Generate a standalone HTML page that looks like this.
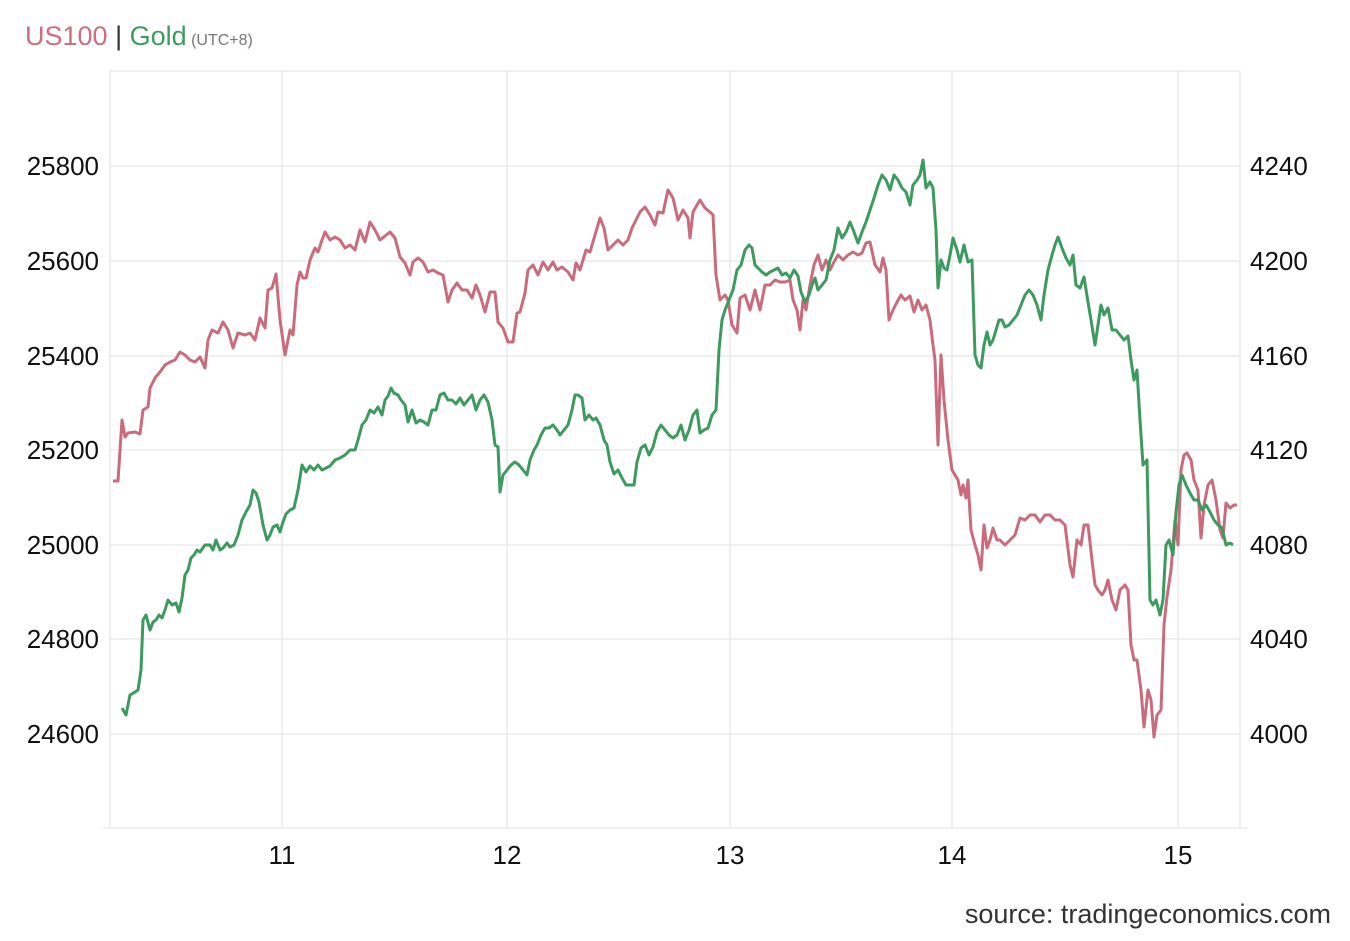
<!DOCTYPE html>
<html><head><meta charset="utf-8"><style>
body{margin:0;background:#fff;width:1350px;height:936px;overflow:hidden;font-family:"Liberation Sans",sans-serif}
</style></head><body>
<svg width="1350" height="936" xmlns="http://www.w3.org/2000/svg" font-family="Liberation Sans, sans-serif">
<text x="25" y="45" font-size="27"><tspan fill="#cc6e80">US100</tspan><tspan fill="#333"> | </tspan><tspan fill="#3f9a5e">Gold</tspan><tspan fill="#777" font-size="16"> (UTC+8)</tspan></text>
<g stroke="#e6e6e6" stroke-width="1.3" fill="none">
<line x1="110" y1="71" x2="1240" y2="71"/>
<line x1="110" y1="166" x2="1240" y2="166"/>
<line x1="110" y1="261" x2="1240" y2="261"/>
<line x1="110" y1="356" x2="1240" y2="356"/>
<line x1="110" y1="450" x2="1240" y2="450"/>
<line x1="110" y1="545" x2="1240" y2="545"/>
<line x1="110" y1="639" x2="1240" y2="639"/>
<line x1="110" y1="734" x2="1240" y2="734"/>
<line x1="282" y1="71" x2="282" y2="828"/>
<line x1="507" y1="71" x2="507" y2="828"/>
<line x1="730" y1="71" x2="730" y2="828"/>
<line x1="952" y1="71" x2="952" y2="828"/>
<line x1="1178" y1="71" x2="1178" y2="828"/>
<line x1="103" y1="828" x2="1247" y2="828"/>
<line x1="110" y1="71" x2="110" y2="828"/>
<line x1="1240" y1="71" x2="1240" y2="828"/>
</g>
<g font-size="26" fill="#111">
<text x="99" y="175" text-anchor="end">25800</text>
<text x="99" y="270" text-anchor="end">25600</text>
<text x="99" y="365" text-anchor="end">25400</text>
<text x="99" y="459" text-anchor="end">25200</text>
<text x="99" y="554" text-anchor="end">25000</text>
<text x="99" y="648" text-anchor="end">24800</text>
<text x="99" y="743" text-anchor="end">24600</text>
<text x="1250" y="175">4240</text>
<text x="1250" y="270">4200</text>
<text x="1250" y="365">4160</text>
<text x="1250" y="459">4120</text>
<text x="1250" y="554">4080</text>
<text x="1250" y="648">4040</text>
<text x="1250" y="743">4000</text>
<text x="282" y="864" text-anchor="middle">11</text>
<text x="507" y="864" text-anchor="middle">12</text>
<text x="730" y="864" text-anchor="middle">13</text>
<text x="952" y="864" text-anchor="middle">14</text>
<text x="1178" y="864" text-anchor="middle">15</text>
<text x="1331" y="923" text-anchor="end" fill="#333" font-size="27">source: tradingeconomics.com</text>
</g>
<polyline fill="none" stroke="#c96b7d" stroke-width="3" stroke-linejoin="round" points="113,481 118,481 122,420 125,437 128,433 135,432 140,434 143,410 148,407 150,388 155,378 160,372 165,365 170,362 175,360 180,352 185,355 190,360 195,362 200,357 205,368 208,340 212,330 218,333 223,322 228,330 233,348 238,333 245,335 250,333 255,340 260,318 265,328 268,290 272,288 276,274 280,320 285,355 290,330 293,335 297,285 300,272 303,278 306,278 310,260 315,248 318,252 322,240 325,232 330,240 335,237 340,240 345,248 350,245 355,250 360,230 365,242 370,222 375,230 380,240 385,236 390,232 395,238 400,257 405,263 410,275 413,262 418,258 423,262 428,272 433,270 438,273 443,275 448,302 452,290 457,283 462,290 467,290 472,298 476,285 480,295 485,312 490,292 495,292 498,322 503,328 508,342 513,342 517,313 520,312 525,293 528,270 533,265 538,275 543,262 548,270 553,262 557,270 562,267 568,272 573,280 576,263 580,270 583,260 586,250 590,252 595,235 600,218 604,228 608,250 613,245 618,240 623,245 628,240 632,228 636,220 640,212 645,207 650,215 655,225 658,212 663,213 668,190 673,198 678,220 683,210 688,218 690,238 693,212 697,205 700,200 705,208 710,212 713,215 716,275 720,300 725,295 728,300 732,325 737,333 740,298 745,295 750,310 755,290 760,310 765,285 770,285 775,280 780,282 785,282 790,280 793,300 797,310 800,330 803,300 806,310 810,285 814,265 818,255 822,270 826,260 830,270 834,262 838,255 843,260 848,255 853,252 858,255 862,253 866,243 870,242 875,265 880,272 883,258 886,270 889,320 893,310 897,302 901,295 905,300 910,296 914,312 918,300 922,310 926,305 930,320 933,345 935,360 938,445 941,355 944,400 948,440 952,470 955,475 958,480 961,495 963,485 966,498 968,480 971,530 975,545 978,555 981,570 984,525 987,548 990,540 993,528 997,540 1000,540 1005,545 1010,540 1015,535 1020,518 1025,520 1030,515 1035,515 1040,522 1045,515 1050,515 1055,520 1060,520 1065,525 1070,565 1073,577 1077,540 1081,545 1084,525 1088,525 1092,560 1095,585 1098,590 1102,595 1105,590 1108,580 1112,600 1116,610 1120,590 1125,585 1128,590 1131,645 1134,660 1137,660 1141,690 1144,727 1148,690 1151,700 1154,737 1157,715 1161,710 1164,625 1167,597 1171,570 1175,520 1178,545 1181,470 1184,455 1187,453 1191,460 1194,480 1198,490 1201,538 1204,505 1208,485 1212,480 1216,500 1220,530 1223,538 1226,503 1230,508 1234,505 1237,505"/>
<polyline fill="none" stroke="#3d9a5e" stroke-width="3" stroke-linejoin="round" points="122,708 126,715 130,695 135,692 138,690 141,670 143,620 146,615 150,630 153,622 156,620 159,615 162,618 165,610 168,600 172,605 176,603 179,612 182,598 185,575 188,570 191,558 194,555 197,550 200,552 205,545 210,545 213,550 216,540 220,550 223,548 227,543 230,547 234,545 238,535 242,520 246,512 250,505 253,490 256,493 259,502 263,525 267,540 270,535 273,527 277,525 280,532 283,522 286,514 290,510 294,508 298,490 302,465 306,472 310,466 314,470 318,465 322,470 326,468 330,466 335,460 340,458 345,455 350,450 355,450 358,440 362,425 366,420 370,410 374,413 378,407 382,415 385,400 388,396 391,388 394,393 398,395 401,400 405,405 408,422 412,410 416,423 420,420 424,422 428,425 432,410 436,410 440,395 444,393 448,400 452,400 456,404 460,398 464,405 468,400 472,395 476,410 480,400 484,395 488,402 492,420 495,445 498,447 500,492 503,475 507,470 511,465 515,462 519,465 523,470 527,475 530,460 534,450 537,445 541,435 545,428 549,428 553,425 557,430 560,435 564,430 568,425 572,410 575,395 578,395 582,398 585,420 589,415 593,420 596,418 600,425 604,440 607,445 610,462 614,474 618,470 622,478 626,485 630,485 634,485 637,462 641,448 645,445 649,455 653,447 657,432 661,425 665,430 669,435 673,438 677,435 681,425 685,440 689,430 693,415 697,410 700,433 704,430 708,428 712,415 716,410 719,350 722,320 725,310 729,300 733,290 737,270 741,265 745,250 749,245 752,248 755,265 758,268 762,272 766,275 770,272 774,270 778,268 782,275 786,273 790,278 794,270 798,276 801,292 805,302 809,295 812,285 815,278 818,290 822,285 826,280 830,260 834,250 838,228 842,238 846,232 850,222 854,232 858,243 862,232 866,222 870,210 874,198 878,185 882,175 886,180 890,190 894,175 898,180 902,188 906,192 910,205 913,185 917,180 920,175 923,160 926,188 930,182 933,188 936,230 938,288 941,260 944,268 947,270 950,255 953,238 957,250 960,262 964,245 968,262 972,260 975,355 978,365 981,368 984,345 987,332 990,345 993,340 996,330 999,320 1002,320 1005,327 1009,325 1013,320 1017,315 1021,305 1025,295 1029,290 1033,295 1037,305 1041,320 1044,295 1048,270 1052,255 1055,245 1058,237 1062,248 1066,258 1070,265 1073,255 1076,285 1080,288 1084,277 1088,302 1091,320 1095,345 1098,325 1101,305 1104,315 1108,308 1112,330 1116,330 1120,335 1124,340 1128,336 1131,360 1134,380 1137,370 1140,420 1143,465 1147,460 1150,600 1153,605 1156,600 1160,615 1163,600 1166,545 1169,540 1173,555 1176,512 1179,485 1182,475 1186,485 1190,493 1194,500 1198,500 1202,510 1206,505 1210,512 1214,520 1218,525 1222,528 1226,545 1230,543 1233,545"/>
</svg>
</body></html>
